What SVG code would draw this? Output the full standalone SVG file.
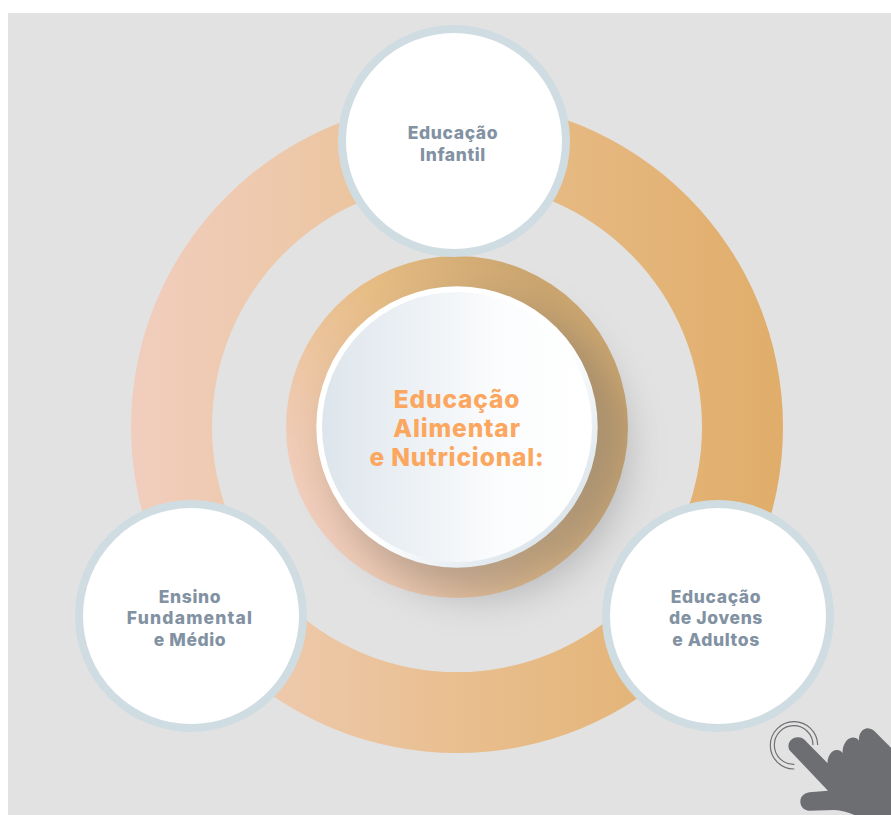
<svg xmlns="http://www.w3.org/2000/svg" width="891" height="815" viewBox="0 0 891 815">
<style>
.node{fill:#fff;stroke:#cfdde3;stroke-width:8}
.lbl{font-family:Inter,"Liberation Sans",sans-serif;font-weight:800;font-size:17.500px;letter-spacing:.62px;fill:#8292a3;text-anchor:middle}
.ttl{font-family:Inter,"Liberation Sans",sans-serif;font-weight:800;font-size:24.500px;letter-spacing:.85px;fill:#fba75f;text-anchor:middle}
</style>
<defs>
<linearGradient id="ringG" gradientUnits="userSpaceOnUse" x1="131" y1="0" x2="783" y2="0"><stop offset="0" stop-color="#f1cdbe"/><stop offset=".25" stop-color="#edc8a9"/><stop offset=".55" stop-color="#e8bd8a"/><stop offset="1" stop-color="#e0ad6a"/></linearGradient>
<linearGradient id="midG" gradientUnits="userSpaceOnUse" x1="310" y1="520" x2="600" y2="340"><stop offset="0" stop-color="#f1cdbd"/><stop offset=".5" stop-color="#e7bd85"/><stop offset=".93" stop-color="#cca66f"/><stop offset="1" stop-color="#cca66f"/></linearGradient>
<linearGradient id="discG" x1="0" y1="0" x2="1" y2="0"><stop offset="0" stop-color="#dde5ec"/><stop offset=".65" stop-color="#fbfcfd"/><stop offset="1" stop-color="#ffffff"/></linearGradient>
<linearGradient id="rimG" x1="0" y1="0" x2="1" y2="1"><stop offset="0" stop-color="#ffffff"/><stop offset=".55" stop-color="#ffffff"/><stop offset=".85" stop-color="#dde6ec"/><stop offset="1" stop-color="#dde6ec"/></linearGradient>
<filter id="sh" x="-40%" y="-40%" width="180%" height="180%"><feGaussianBlur stdDeviation="20"/></filter>
</defs>
<rect x="8" y="13" width="883" height="802" fill="#e2e2e2"/>
<g id="connectors">
<path id="ring" fill="url(#ringG)" fill-rule="evenodd" d="M131 427a326 326 0 1 0 652 0a326 326 0 1 0-652 0ZM212 427a245 245 0 1 1 490 0a245 245 0 1 1-490 0Z"/>
</g>
<g id="center">
<circle cx="457" cy="427" r="171" fill="url(#midG)"/>
<circle cx="480" cy="450" r="146" fill="#5f6068" opacity=".36" filter="url(#sh)"/>
<circle cx="457" cy="427" r="140.700" fill="url(#rimG)"/>
<circle cx="457" cy="427" r="135" fill="url(#discG)"/>
<text class="ttl" x="457" y="408">Educação</text>
<text class="ttl" x="457" y="437">Alimentar</text>
<text class="ttl" x="457" y="466">e Nutricional:</text>
</g>
<g id="node-top">
<circle class="node" cx="454" cy="141" r="112"/>
<text class="lbl" x="453" y="138.500">Educação</text>
<text class="lbl" x="453" y="160.500">Infantil</text>
</g>
<g id="node-left">
<circle class="node" cx="191" cy="616" r="112"/>
<text class="lbl" x="190" y="602.500">Ensino</text>
<text class="lbl" x="190" y="624" style="letter-spacing:1.2px">Fundamental</text>
<text class="lbl" x="190" y="645.500">e Médio</text>
</g>
<g id="node-right">
<circle class="node" cx="718" cy="616" r="112"/>
<text class="lbl" x="716" y="602.500">Educação</text>
<text class="lbl" x="716" y="624">de Jovens</text>
<text class="lbl" x="716" y="645.500">e Adultos</text>
</g>
<g id="hand" transform="translate(741 695) scale(.33333)">
<path fill="#6d6e71" d="M145 165C137 148 148 128 170 127C182 127 190 133 197 141L260 205C258 190 268 167 285 165C295 164 302 168 305 175C303 155 315 130 332 128C342 127 350 131 354 137C352 120 362 102 378 100C388 100 396 104 403 111L450 158V360H340C320 352 300 345 280 345L205 347C188 346 178 333 178 320C178 305 190 294 205 292L261 287Z"/>
<path fill="none" stroke="#6d6e71" stroke-width="3.500" d="M230 150A71 71 0 1 0 160 222"/>
<path fill="none" stroke="#6d6e71" stroke-width="3.500" d="M216 150A58 58 0 1 0 160 208"/>
</g>
</svg>
